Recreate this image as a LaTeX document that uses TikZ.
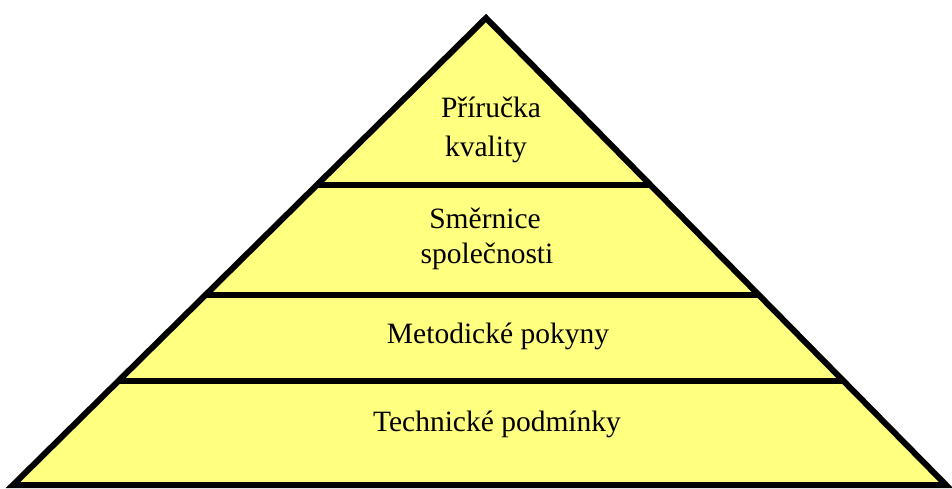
\documentclass[tikz,border=0pt]{standalone}
\usepackage{fontspec}
\setmainfont{Liberation Serif}
\begin{document}
\begin{tikzpicture}[x=1pt,y=-1pt,
  tier/.style={fill=pyrfill},
  rim/.style={draw=black,line width=6pt,line join=miter},
  label/.style={font=\fontsize{29.5}{37}\selectfont,inner sep=0pt,anchor=base,align=center}]
\definecolor{pyrfill}{HTML}{FFFF80}
\useasboundingbox (0,0) rectangle (952,488);
% pyramid corners (centre of the outline)
\coordinate (apex) at (486,18);
\coordinate (bl) at (13,485);
\coordinate (br) at (946,485);
\fill[tier] (apex) -- (bl) -- (br) -- cycle;
% horizontal tier dividers, clipped to the pyramid
\begin{scope}
  \clip (apex) -- (bl) -- (br) -- cycle;
  \draw[line width=6pt] (0,185) -- (952,185);
  \draw[line width=6pt] (0,295) -- (952,295);
  \draw[line width=6pt] (0,381) -- (952,381);
\end{scope}
\draw[rim] (apex) -- (bl) -- (br) -- cycle;
% tier labels
\node[label] (t1a) at (491,117) {Příručka};
\node[label] (t1b) at (486,156) {kvality};
\node[label] (t2a) at (485,228) {Směrnice};
\node[label] (t2b) at (487,263) {společnosti};
\node[label] (t3) at (498,343) {Metodické pokyny};
\node[label] (t4) at (497,431) {Technické podmínky};
\end{tikzpicture}
\end{document}
